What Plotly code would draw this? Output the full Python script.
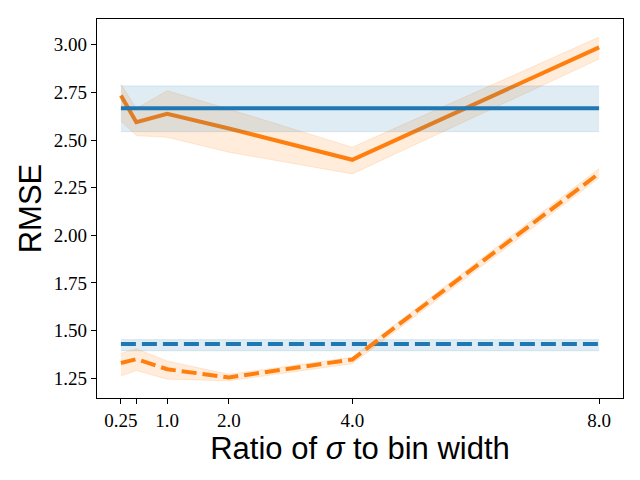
import plotly.graph_objects as go

ratios = [0.25, 0.5, 1.0, 2.0, 4.0, 8.0]
tick_labels = ["0.25", "", "1.0", "2.0", "4.0", "8.0"]

# blue baselines (constant)
blue_solid = 2.666
blue_solid_lo = 2.544
blue_solid_hi = 2.784
blue_dash = 1.429
blue_dash_lo = 1.394
blue_dash_hi = 1.452

# orange solid
orange_solid = [2.733, 2.593, 2.637, 2.560, 2.396, 2.986]
orange_solid_lo = [2.600, 2.523, 2.514, 2.436, 2.322, 2.925]
orange_solid_hi = [2.794, 2.665, 2.759, 2.662, 2.462, 3.040]

# orange dashed
orange_dash = [1.330, 1.350, 1.297, 1.254, 1.348, 2.325]
orange_dash_lo = [1.262, 1.290, 1.245, 1.236, 1.326, 2.300]
orange_dash_hi = [1.380, 1.405, 1.340, 1.270, 1.360, 2.350]

BLUE = "#1f77b4"
ORANGE = "#ff7f0e"
BLUE_FILL = "rgba(31,119,180,0.14)"
ORANGE_FILL = "rgba(255,127,14,0.15)"

fig = go.Figure()


def band(lo, hi, fill):
    fig.add_trace(go.Scatter(x=ratios, y=hi, mode="lines",
                             line=dict(width=1, color=fill), showlegend=False, hoverinfo="skip"))
    fig.add_trace(go.Scatter(x=ratios, y=lo, mode="lines", fill="tonexty", fillcolor=fill,
                             line=dict(width=1, color=fill), showlegend=False, hoverinfo="skip"))


# orange solid
band(orange_solid_lo, orange_solid_hi, ORANGE_FILL)
fig.add_trace(go.Scatter(x=ratios, y=orange_solid, mode="lines",
                         line=dict(color=ORANGE, width=4), showlegend=False))
# blue solid
band([blue_solid_lo] * len(ratios), [blue_solid_hi] * len(ratios), BLUE_FILL)
fig.add_trace(go.Scatter(x=ratios, y=[blue_solid] * len(ratios), mode="lines",
                         line=dict(color=BLUE, width=4), showlegend=False))
# blue dashed
band([blue_dash_lo] * len(ratios), [blue_dash_hi] * len(ratios), BLUE_FILL)
fig.add_trace(go.Scatter(x=ratios, y=[blue_dash] * len(ratios), mode="lines",
                         line=dict(color=BLUE, width=4, dash="15px,6px"), showlegend=False))
# orange dashed
band(orange_dash_lo, orange_dash_hi, ORANGE_FILL)
fig.add_trace(go.Scatter(x=ratios, y=orange_dash, mode="lines",
                         line=dict(color=ORANGE, width=4, dash="15px,6px"), showlegend=False))

axis_common = dict(showline=True, linecolor="black", linewidth=1.2, mirror=True,
                   ticks="outside", ticklen=5, tickwidth=1, tickcolor="black",
                   showgrid=False, zeroline=False, automargin=False,
                   tickfont=dict(family="Liberation Serif, serif", size=19, color="black"))

fig.update_xaxes(range=[-0.1375, 8.3875], tickvals=ratios, ticktext=tick_labels,
                 title=dict(text="Ratio of <i>σ</i> to bin width",
                            font=dict(family="Liberation Sans, sans-serif", size=31, color="black"),
                            standoff=2),
                 **axis_common)
fig.update_yaxes(range=[1.146, 3.135], tickvals=[1.25, 1.5, 1.75, 2.0, 2.25, 2.5, 2.75, 3.0],
                 ticktext=["1.25", "1.50", "1.75", "2.00", "2.25", "2.50", "2.75", "3.00"],
                 title=dict(text="RMSE",
                            font=dict(family="Liberation Sans, sans-serif", size=31, color="black"),
                            standoff=2),
                 **axis_common)

fig.update_layout(width=640, height=480, plot_bgcolor="white", paper_bgcolor="white",
                  margin=dict(l=89, r=25, t=11, b=90), showlegend=False)

fig.write_html("out.html")
